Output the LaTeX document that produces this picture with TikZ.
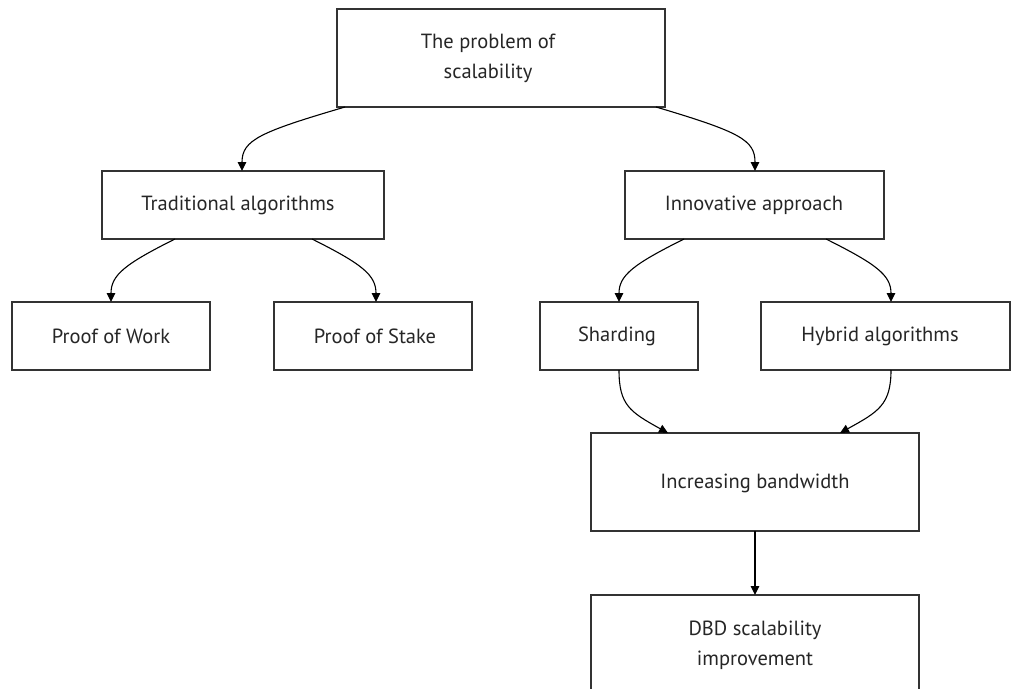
\documentclass[tikz,border=0pt]{standalone}
\usepackage{fontspec}
\setmainfont{PT Sans}
\usetikzlibrary{arrows.meta}
\definecolor{ln}{HTML}{333333}
\begin{document}
\begin{tikzpicture}[x=1pt,y=-1pt,
  box/.style={draw=ln,line width=1.3pt,fill=white,inner sep=0pt},
  lbl/.style={font=\fontsize{20.5}{30}\selectfont,text=black!85,align=center},
  conn/.style={draw=black,line width=1.1pt,-{Triangle[length=9pt,width=8.5pt]}}]
\useasboundingbox (0,0) rectangle (1011,688);
% boxes
\draw[box] (337,9) rectangle (665,107);
\node[lbl] (top) at (488,58) {The problem of\\scalability};
\coordinate (topL) at (345,107);
\coordinate (topR) at (656,107);
\draw[box] (102,171) rectangle (384,239);
\node[lbl] (trad) at (238,205) {Traditional algorithms};
\draw[box] (625,171) rectangle (884,239);
\node[lbl] (inno) at (754,205) {Innovative approach};
\draw[box] (12,302) rectangle (210,370);
\node[lbl] (pow) at (111,336) {Proof of Work};
\draw[box] (274,302) rectangle (472,370);
\node[lbl] (pos) at (375,336) {Proof of Stake};
\draw[box] (540,302) rectangle (698,370);
\node[lbl] (shard) at (617,336) {Sharding};
\draw[box] (761,302) rectangle (1010,370);
\node[lbl] (hyb) at (880,336) {Hybrid algorithms};
\draw[box] (591,433) rectangle (919,531);
\node[lbl] (inc) at (755,483) {Increasing bandwidth};
\draw[box] (591,595) rectangle (919,700);
\node[lbl] (dbd) at (755,645) {DBD scalability\\improvement};
% anchor coordinates
\coordinate (tradT) at (242,171);
\coordinate (innoT) at (755,171);
\coordinate (tradL) at (175,239);
\coordinate (tradR) at (312,239);
\coordinate (innoL) at (684,239);
\coordinate (innoR) at (826,239);
\coordinate (powT) at (111,302);
\coordinate (posT) at (376,302);
\coordinate (shardT) at (619,302);
\coordinate (hybT) at (891,302);
\coordinate (shardB) at (619,370);
\coordinate (hybB) at (891,370);
\coordinate (incL) at (668,433);
\coordinate (incR) at (840,433);
\coordinate (incB) at (755,531);
\coordinate (dbdT) at (755,595);
% connectors
\draw[conn] (topL) .. controls (260,132) and (242,140) .. (tradT);
\draw[conn] (topR) .. controls (740,132) and (755,140) .. (innoT);
\draw[conn] (tradL) .. controls (125,264) and (111,275) .. (powT);
\draw[conn] (tradR) .. controls (362,264) and (376,275) .. (posT);
\draw[conn] (innoL) .. controls (634,264) and (619,275) .. (shardT);
\draw[conn] (innoR) .. controls (876,264) and (891,275) .. (hybT);
\draw[conn] (shardB) .. controls (619,405) and (630,412) .. (incL);
\draw[conn] (hybB) .. controls (891,405) and (878,412) .. (incR);
\draw[conn] (incB) -- (dbdT);
\end{tikzpicture}
\end{document}
